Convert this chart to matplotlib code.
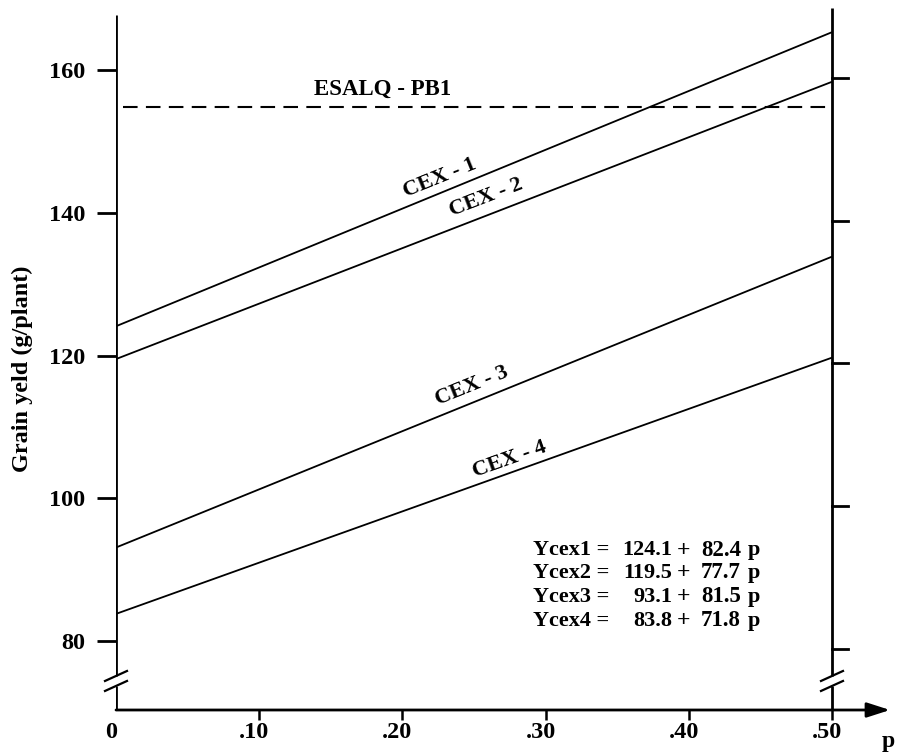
import matplotlib
matplotlib.use("Agg")
import matplotlib.pyplot as plt
import matplotlib.transforms as mtransforms
import numpy as np

# ---- data ----
p_range = [0.0, 0.5]
series_names = ["CEX - 1", "CEX - 2", "CEX - 3", "CEX - 4"]
intercepts = [124.1, 119.5, 93.1, 83.8]
slopes = [82.4, 77.7, 81.5, 71.8]
esalq_name = "ESALQ - PB1"
esalq_value = 154.8
y_ticks = [80, 100, 120, 140, 160]
x_ticks = [0.0, 0.1, 0.2, 0.3, 0.4, 0.5]
x_tick_labels = ["0", ".10", ".20", ".30", ".40", ".50"]
eq_names = ["Ycex1 =", "Ycex2 =", "Ycex3 =", "Ycex4 ="]

FONT = "Liberation Serif"
plt.rcParams["font.family"] = [FONT, "DejaVu Serif"]
plt.rcParams["font.weight"] = "bold"

W, H = 897, 753
fig = plt.figure(figsize=(W / 100, H / 100), dpi=100)

# layout in pixels
x0_px, x50_px, xend_px = 116, 832, 890
ybot_px, ytop_px = 710, 15
ax = fig.add_axes([x0_px / W, (H - ybot_px) / H, (xend_px - x0_px) / W, (ybot_px - ytop_px) / H])
px_per_x = (x50_px - x0_px) / 0.5
px_per_y = 142.75 / 20
ymin = 80 - (ybot_px - 641) / px_per_y
ymax = 160 + (70 - ytop_px) / px_per_y
xmax = (xend_px - x0_px) / px_per_x
ax.set_xlim(0, xmax)
ax.set_ylim(ymin, ymax)

def px2data(px, py):
    return (px - x0_px) / px_per_x, 160 - (py - 70) / px_per_y

for s in ["top", "right", "bottom", "left"]:
    ax.spines[s].set_visible(False)

lw_axis = 2.0
# lines
p = np.array(p_range)
for b, m in zip(intercepts, slopes):
    ax.plot(p, b + m * p, color="black", lw=1.3, solid_capstyle="butt")
ax.plot([px2data(123, 0)[0], 0.5], [esalq_value, esalq_value], color="black",
        lw=1.5, dashes=(7, 4))

# left axis with break
brk = 74.4
gap = 0.7
ax.plot([0, 0], [brk + gap, ymax], color="black", lw=lw_axis, solid_capstyle="butt")
ax.plot([0, 0], [ymin, brk - gap], color="black", lw=lw_axis, solid_capstyle="butt")
# right axis with break
ax.plot([0.5, 0.5], [brk + gap, ymax + 1.0], color="black", lw=lw_axis, solid_capstyle="butt", clip_on=False)
ax.plot([0.5, 0.5], [ymin, brk - gap], color="black", lw=lw_axis, solid_capstyle="butt")

dxu = 1 / px_per_x
dyu = 1 / px_per_y
for xc in [0.0, 0.5]:
    for yc in [brk + gap, brk - gap]:
        ax.plot([xc - 11 * dxu, xc + 11 * dxu], [yc - 5 * dyu, yc + 5 * dyu],
                color="black", lw=1.6, clip_on=False)

# left ticks
ax.set_yticks(y_ticks)
ax.set_yticklabels([str(v) for v in y_ticks], fontsize=17.5, fontweight="bold", family=FONT)
ax.tick_params(axis="y", direction="out", length=14, width=2, pad=8, left=True)
# right ticks (drawn manually, pointing outward)
for yv in y_ticks:
    ax.plot([0.5, 0.5 + 16 * dxu], [yv - 1.1, yv - 1.1], color="black", lw=2, clip_on=False)

# bottom ticks
ax.set_xticks(x_ticks)
ax.set_xticklabels(x_tick_labels, fontsize=17.5, fontweight="bold", family=FONT)
ax.tick_params(axis="x", direction="out", length=7, width=1.8, pad=2)
ax.xaxis.get_major_ticks()[0].tick1line.set_visible(False)
shift = mtransforms.ScaledTranslation(-5 / 100, 0, fig.dpi_scale_trans)
for lab in ax.get_xticklabels():
    lab.set_transform(lab.get_transform() + shift)

# x axis with arrow
ax.annotate("", xy=(xmax, ymin), xytext=(0, ymin),
            arrowprops=dict(arrowstyle="-|>,head_length=1.4,head_width=0.45", lw=lw_axis,
                            color="black", shrinkA=0, shrinkB=0),
            annotation_clip=False)
xp, yp = px2data(888, 741)
ax.text(xp, yp, "p", fontsize=17, fontweight="bold", ha="center", va="center", clip_on=False)

# y label
xl, yl = px2data(22, 369)
ax.text(xl, yl, "Grain yeld (g/plant)", rotation=90, fontsize=17.5, fontweight="bold",
        ha="center", va="center", clip_on=False)

# line labels
xe, ye = px2data(383, 89)
ax.text(xe, ye, esalq_name, fontsize=16.5, fontweight="bold", ha="center", va="center")
label_pos = [(440, 178), (486, 198), (472, 386), (510, 459)]
label_rot = [22, 21, 22, 19.5]
for name, (lx, ly), r in zip(series_names, label_pos, label_rot):
    tx, ty = px2data(lx, ly)
    ax.text(tx, ty, name, fontsize=16, fontweight="bold", ha="center", va="center",
            rotation=r, rotation_mode="anchor")

# equations
rows_y = [550, 573, 597, 621]
for name, b, m, ry in zip(eq_names, intercepts, slopes, rows_y):
    a1, yy = px2data(533, ry)
    a2, _ = px2data(672, ry)
    a3, _ = px2data(684, ry)
    a4, _ = px2data(741, ry)
    a5, _ = px2data(760, ry)
    ax.text(a1, yy, name, fontsize=16, fontweight="bold", ha="left", va="center")
    ax.text(a2, yy, f"{b:.1f}", fontsize=16, fontweight="bold", ha="right", va="center")
    ax.text(a3, yy, "+", fontsize=17, fontweight="bold", ha="center", va="center")
    ax.text(a4, yy, f"{m:.1f}", fontsize=16.5, fontweight="bold", ha="right", va="center")
    ax.text(a5, yy, "p", fontsize=16, fontweight="bold", ha="right", va="center")

fig.savefig("out.png", dpi=100)
